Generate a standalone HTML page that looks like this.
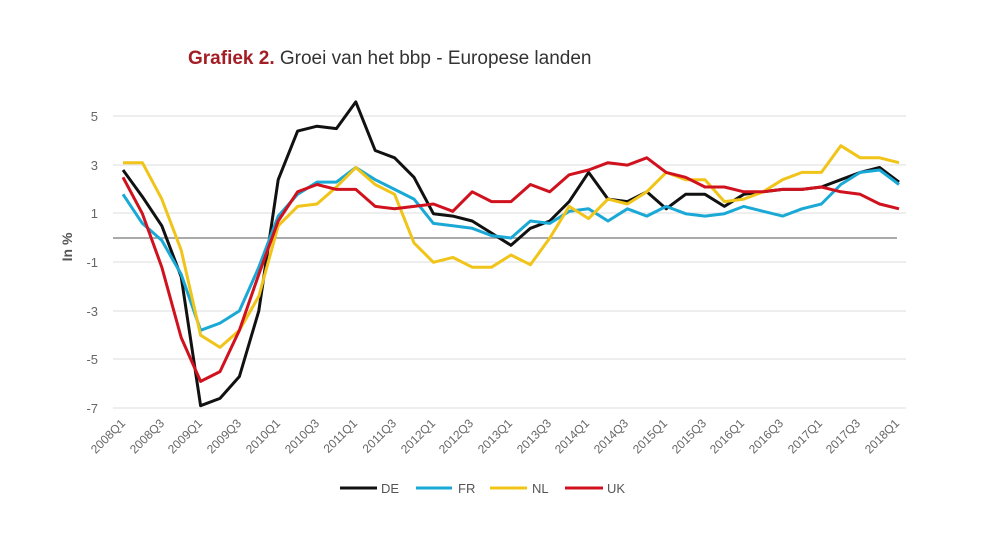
<!DOCTYPE html>
<html><head><meta charset="utf-8"><style>
body{margin:0;background:#fff;}
svg{display:block;font-family:"Liberation Sans",sans-serif;}
</style></head><body>
<svg id="c" width="988" height="550" viewBox="0 0 988 550">
<text x="188" y="64" font-size="19" fill="#333"><tspan fill="#a31d24" font-weight="bold">Grafiek 2.</tspan> Groei van het bbp - Europese landen</text>
<g stroke="#dcdcdc" stroke-width="1">
<line x1="113" x2="906" y1="116" y2="116"/><line x1="113" x2="906" y1="165" y2="165"/>
<line x1="113" x2="906" y1="213" y2="213"/><line x1="113" x2="906" y1="262" y2="262"/>
<line x1="113" x2="906" y1="311" y2="311"/><line x1="113" x2="906" y1="359" y2="359"/>
<line x1="113" x2="906" y1="408" y2="408"/>
</g>
<line x1="113" x2="897" y1="238" y2="238" stroke="#777" stroke-width="1.2"/>
<g font-size="13" fill="#666" text-anchor="end">
<text x="98" y="121">5</text><text x="98" y="170">3</text><text x="98" y="218">1</text>
<text x="98" y="267">-1</text><text x="98" y="316">-3</text><text x="98" y="364">-5</text><text x="98" y="413">-7</text>
</g>
<text transform="translate(72,247) rotate(-90)" font-size="14" font-weight="bold" fill="#555" text-anchor="middle">In %</text>
<g id="xl" font-size="12" fill="#666" text-anchor="end">
<text transform="translate(126,424) rotate(-45)">2008Q1</text>
<text transform="translate(165,424) rotate(-45)">2008Q3</text>
<text transform="translate(203,424) rotate(-45)">2009Q1</text>
<text transform="translate(242,424) rotate(-45)">2009Q3</text>
<text transform="translate(281,424) rotate(-45)">2010Q1</text>
<text transform="translate(320,424) rotate(-45)">2010Q3</text>
<text transform="translate(358,424) rotate(-45)">2011Q1</text>
<text transform="translate(397,424) rotate(-45)">2011Q3</text>
<text transform="translate(436,424) rotate(-45)">2012Q1</text>
<text transform="translate(474,424) rotate(-45)">2012Q3</text>
<text transform="translate(513,424) rotate(-45)">2013Q1</text>
<text transform="translate(552,424) rotate(-45)">2013Q3</text>
<text transform="translate(590,424) rotate(-45)">2014Q1</text>
<text transform="translate(629,424) rotate(-45)">2014Q3</text>
<text transform="translate(668,424) rotate(-45)">2015Q1</text>
<text transform="translate(707,424) rotate(-45)">2015Q3</text>
<text transform="translate(745,424) rotate(-45)">2016Q1</text>
<text transform="translate(784,424) rotate(-45)">2016Q3</text>
<text transform="translate(823,424) rotate(-45)">2017Q1</text>
<text transform="translate(861,424) rotate(-45)">2017Q3</text>
<text transform="translate(900,424) rotate(-45)">2018Q1</text>
</g>
<g id="series" fill="none" stroke-width="3" stroke-linejoin="round"></g>
<g stroke-width="3">
<line x1="340" x2="377" y1="488" y2="488" stroke="#111"/>
<line x1="416" x2="452" y1="488" y2="488" stroke="#1aa9d6"/>
<line x1="490" x2="527" y1="488" y2="488" stroke="#f0c419"/>
<line x1="565" x2="603" y1="488" y2="488" stroke="#d0121f"/>
</g>
<g font-size="13" fill="#555">
<text x="381" y="493">DE</text><text x="458" y="493">FR</text><text x="532" y="493">NL</text><text x="607" y="493">UK</text>
</g>
</svg>
<script>
var D={
FR:[1.8,0.6,-0.1,-1.5,-3.8,-3.5,-3.0,-1.2,0.9,1.8,2.3,2.3,2.9,2.4,2.0,1.6,0.6,0.5,0.4,0.1,0.0,0.7,0.6,1.1,1.2,0.7,1.2,0.9,1.3,1.0,0.9,1.0,1.3,1.1,0.9,1.2,1.4,2.2,2.7,2.8,2.2],
NL:[3.1,3.1,1.6,-0.5,-4.0,-4.5,-3.8,-2.4,0.5,1.3,1.4,2.1,2.9,2.2,1.8,-0.2,-1.0,-0.8,-1.2,-1.2,-0.7,-1.1,0.0,1.3,0.8,1.6,1.4,1.9,2.7,2.4,2.4,1.5,1.6,1.9,2.4,2.7,2.7,3.8,3.3,3.3,3.1],
DE:[2.8,1.7,0.5,-1.6,-6.9,-6.6,-5.7,-3.0,2.4,4.4,4.6,4.5,5.6,3.6,3.3,2.5,1.0,0.9,0.7,0.2,-0.3,0.4,0.7,1.5,2.7,1.6,1.5,1.9,1.2,1.8,1.8,1.3,1.8,1.9,2.0,2.0,2.1,2.4,2.7,2.9,2.3],
UK:[2.5,1.0,-1.2,-4.1,-5.9,-5.5,-3.8,-1.5,0.7,1.9,2.2,2.0,2.0,1.3,1.2,1.3,1.4,1.1,1.9,1.5,1.5,2.2,1.9,2.6,2.8,3.1,3.0,3.3,2.7,2.5,2.1,2.1,1.9,1.9,2.0,2.0,2.1,1.9,1.8,1.4,1.2]};
var C={DE:"#111",FR:"#1aa9d6",NL:"#f0c419",UK:"#d0121f"};
var g=document.getElementById("series");
["DE","FR","NL","UK"].forEach(function(k){
var p=D[k].map(function(v,i){return (123+19.4*i).toFixed(1)+","+(238-24.3*v).toFixed(1);}).join(" ");
var e=document.createElementNS("http://www.w3.org/2000/svg","polyline");
e.setAttribute("points",p);e.setAttribute("stroke",C[k]);g.appendChild(e);});
</script>
</body></html>
